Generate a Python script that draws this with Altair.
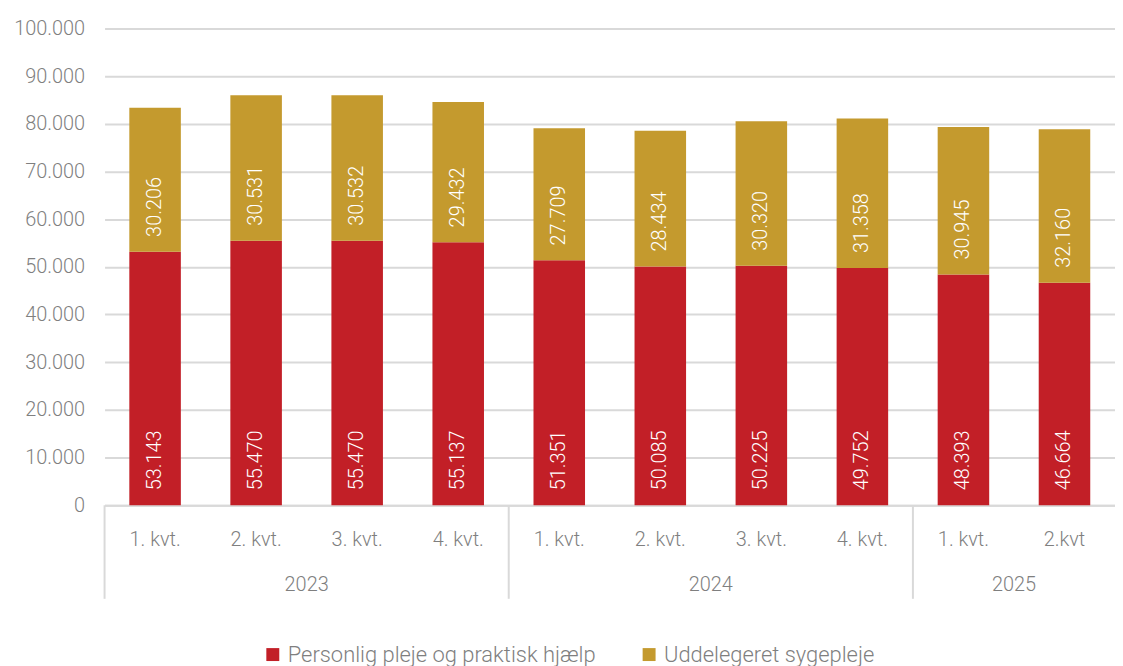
import altair as alt
import pandas as pd

quarters = ["1. kvt.", "2. kvt.", "3. kvt.", "4. kvt.",
            "1. kvt.", "2. kvt.", "3. kvt.", "4. kvt.",
            "1. kvt.", "2.kvt"]
years = [2023, 2023, 2023, 2023, 2024, 2024, 2024, 2024, 2025, 2025]
personlig = [53143, 55470, 55470, 55137, 51351, 50085, 50225, 49752, 48393, 46664]
sygepleje = [30206, 30531, 30532, 29432, 27709, 28434, 30320, 31358, 30945, 32160]
series = ["Personlig pleje og praktisk hjælp", "Uddelegeret sygepleje"]
colors = ["#C21F27", "#C49A2E"]
y_ticks = [0, 10000, 20000, 30000, 40000, 50000, 60000, 70000, 80000, 90000, 100000]

keys = [f"{y}|{q}|{i}" for i, (y, q) in enumerate(zip(years, quarters))]

rows = []
for k, y, p, s in zip(keys, years, personlig, sygepleje):
    rows.append({"key": k, "year": y, "serie": series[0], "order": 0, "value": p, "base": 0, "top": p})
    rows.append({"key": k, "year": y, "serie": series[1], "order": 1, "value": s, "base": p, "top": p + s})
df = pd.DataFrame(rows)

# year label anchors & separators
year_rows = []
sep_rows = []
for yv in sorted(set(years)):
    idx = [i for i, y in enumerate(years) if y == yv]
    n = len(idx)
    year_rows.append({"key": keys[idx[0] + n // 2 - 1], "label": str(yv)})
    sep_rows.append({"key": keys[idx[0]]})
df_year = pd.DataFrame(year_rows)
df_sep = pd.DataFrame(sep_rows)

FONT = "Roboto, sans-serif"
GRAY = "#7F7F7F"
W, H = 1015, 479
P_IN = 0.49
P_OUT = P_IN / 2
STEP = W / (len(keys) - P_IN + 2 * P_OUT)

xscale = alt.Scale(domain=keys, paddingInner=P_IN, paddingOuter=P_OUT)
yscale = alt.Scale(domain=[0, 100000])

fmt = "replace(format(datum.value, ','), ',', '.')"

bars = alt.Chart(df).mark_bar().encode(
    x=alt.X("key:N", scale=xscale, sort=keys,
            axis=alt.Axis(title=None, labelExpr="split(datum.value, '|')[1]",
                          labelAngle=0, ticks=False, domainColor="#D9D9D9", domainWidth=2,
                          labelFont=FONT, labelFontSize=20, labelFontWeight=300, labelColor=GRAY,
                          labelPadding=24)),
    y=alt.Y("base:Q", scale=yscale,
            axis=alt.Axis(title=None, values=y_ticks, labelExpr=fmt, ticks=False, domain=False,
                          gridColor="#D9D9D9", gridWidth=2, labelFont=FONT, labelFontSize=20,
                          labelFontWeight=300, labelColor=GRAY, labelPadding=20)),
    y2="top:Q",
    color=alt.Color("serie:N", scale=alt.Scale(domain=series, range=colors),
                    legend=alt.Legend(title=None, orient="none", legendX=158, legendY=618,
                                      direction="horizontal", symbolType="square",
                                      symbolSize=169, symbolStrokeWidth=0, labelFont=FONT,
                                      labelFontSize=22, labelFontWeight=300, labelColor=GRAY,
                                      labelOffset=4, columnPadding=42, labelLimit=0)),
)

labels = alt.Chart(df).transform_calculate(
    txt="replace(format(datum.value, ','), ',', '.')"
).mark_text(angle=270, align="left", baseline="middle", dx=15, color="white",
            font=FONT, fontSize=20, fontWeight=300).encode(
    x=alt.X("key:N", scale=xscale, sort=keys),
    y=alt.Y("base:Q", scale=yscale),
    text="txt:N",
)

year_text = alt.Chart(df_year).mark_text(dx=STEP / 2, baseline="middle", align="center",
                                         font=FONT, fontSize=20, fontWeight=300,
                                         color=GRAY).encode(
    x=alt.X("key:N", scale=xscale, sort=keys),
    y=alt.value(H + 80),
    text="label:N",
)

seps = alt.Chart(df_sep).mark_rule(xOffset=-STEP / 2, color="#D9D9D9", strokeWidth=2).encode(
    x=alt.X("key:N", scale=xscale, sort=keys),
    y=alt.value(H),
    y2=alt.value(H + 94),
)

chart = alt.layer(bars, labels, seps, year_text).properties(
    width=W, height=H,
    autosize=alt.AutoSizeParams(type="none"),
    padding={"left": 97, "top": 19, "right": 0, "bottom": 160},
).configure_view(stroke=None)

chart.save("out.html", embed_options={"renderer": "svg", "actions": False})
